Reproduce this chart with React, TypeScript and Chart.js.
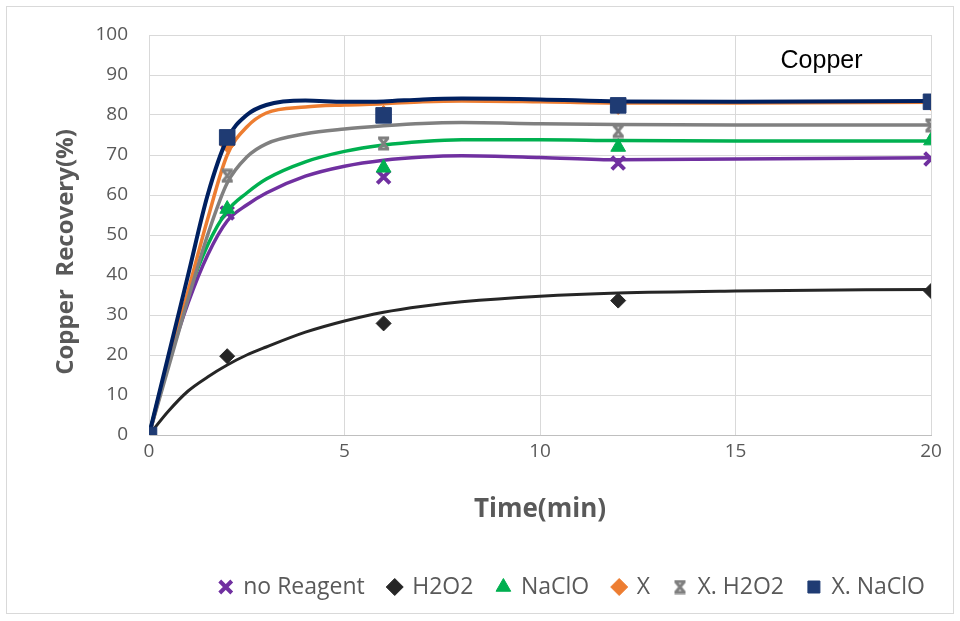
import React, { useEffect, useRef } from 'react';
import { Chart, registerables } from 'chart.js';
Chart.register(...registerables);

// Measured sample points
const sampleTimes = [0, 2, 6, 12, 20];
const noReagent = [0, 55.5, 64.5, 68, 69];
const h2o2 = [0, 19.7, 27.9, 33.6, 36];
const naclo = [0, 56.5, 66.8, 72, 73.6];
const xOnly = [0, 72.5, 80.5, 82, 83];
const xH2o2 = [0, 64.8, 72.9, 76, 77.4];
const xNaclo = [0, 74.4, 79.9, 82.4, 83.3];

// Smoothed trend curves
const curveTimes = [0, 0.5, 1, 1.5, 2, 2.5, 3, 4, 5, 6, 7, 8, 10, 12, 15, 20];
const noReagentCurve = [0, 18, 33, 45, 53.5, 57.5, 60.5, 64.7, 67.2, 68.7, 69.5, 69.8, 69.4, 68.8, 69, 69.3];
const h2o2Curve = [0, 6, 11, 14.5, 17.5, 20, 22, 25.7, 28.5, 30.7, 32.2, 33.3, 34.7, 35.5, 36, 36.4];
const nacloCurve = [0, 19, 35, 47.5, 56, 60.5, 64, 68.3, 70.9, 72.5, 73.4, 73.8, 73.8, 73.6, 73.5, 73.5];
const xCurve = [0, 18, 36, 54, 70, 77, 80.5, 82, 82.5, 82.8, 83.3, 83.5, 83.3, 83, 83, 83.2];
const xH2o2Curve = [0, 17, 34, 50, 63, 69.5, 72.8, 75.3, 76.5, 77.3, 77.9, 78.1, 77.8, 77.6, 77.5, 77.5];
const xNacloCurve = [0, 20, 40, 60, 74, 80, 82.5, 83.6, 83.3, 83.4, 83.9, 84.1, 83.9, 83.4, 83.3, 83.5];

const seriesNames = ['no Reagent', 'H2O2', 'NaClO', 'X', 'X. H2O2', 'X. NaClO'];
const xTicks = [0, 5, 10, 15, 20];
const yTicks = [0, 10, 20, 30, 40, 50, 60, 70, 80, 90, 100];

const markerColors = ['#7030A0', '#262626', '#00B050', '#ED7D31', '#7F7F7F', '#1F3B73'];
const lineColors = ['#7030A0', '#262626', '#00B050', '#ED7D31', '#808080', '#002060'];

export default function App() {
  const ref = useRef<HTMLCanvasElement>(null);

  useEffect(() => {
    if (!ref.current) return;
    // hourglass-like star marker for X. H2O2
    const hg = document.createElement('canvas');
    hg.width = 15;
    hg.height = 15;
    const hctx = hg.getContext('2d')!;
    hctx.strokeStyle = '#7F7F7F';
    hctx.lineWidth = 3;
    hctx.beginPath();
    hctx.moveTo(3, 2); hctx.lineTo(12, 13);
    hctx.moveTo(12, 2); hctx.lineTo(3, 13);
    hctx.moveTo(2, 2); hctx.lineTo(13, 2);
    hctx.moveTo(2, 13); hctx.lineTo(13, 13);
    hctx.stroke();

    const samples = [noReagent, h2o2, naclo, xOnly, xH2o2, xNaclo];
    const curves = [noReagentCurve, h2o2Curve, nacloCurve, xCurve, xH2o2Curve, xNacloCurve];
    const styles: any[] = ['crossRot', 'rectRot', 'triangle', 'rectRot', hg, 'rect'];
    const radii = [9, 7.5, 8.5, 7.5, 8, 11];
    const borderW = [4, 1, 1, 1, 3, 1];
    const lineW = [3.5, 3, 3.5, 3.5, 3.5, 4];

    const datasets: any[] = [];
    samples.forEach((vals, i) => {
      datasets.push({
        label: seriesNames[i],
        data: sampleTimes.map((t, k) => ({ x: t, y: vals[k] })),
        showLine: false,
        pointStyle: styles[i],
        pointRadius: radii[i],
        pointBorderWidth: borderW[i],
        borderWidth: borderW[i],
        backgroundColor: markerColors[i],
        borderColor: markerColors[i],
        order: (5 - i) * 2,
      });
    });
    curves.forEach((vals, i) => {
      datasets.push({
        label: seriesNames[i] + ' curve',
        data: curveTimes.map((t, k) => ({ x: t, y: vals[k] })),
        showLine: true,
        pointRadius: 0,
        borderColor: lineColors[i],
        backgroundColor: lineColors[i],
        borderWidth: lineW[i],
        cubicInterpolationMode: 'monotone',
        order: (5 - i) * 2 + 1,
      });
    });

    const annotate = {
      id: 'annotate',
      afterDraw(chart: any) {
        const { ctx, chartArea, scales } = chart;
        ctx.save();
        // y-axis title
        ctx.translate(66, (chartArea.top + chartArea.bottom) / 2 + 17);
        ctx.rotate(-Math.PI / 2);
        ctx.font = 'bold 24px "Open Sans"';
        ctx.fillStyle = '#595959';
        ctx.textAlign = 'center';
        ctx.textBaseline = 'middle';
        ctx.fillText('Copper  Recovery(%)', 0, 0);
        ctx.restore();
        ctx.save();
        ctx.font = '25px "Liberation Sans"';
        ctx.fillStyle = '#000000';
        ctx.textAlign = 'center';
        ctx.textBaseline = 'middle';
        ctx.fillText('Copper', scales.x.getPixelForValue(17.2), scales.y.getPixelForValue(93.5));
        ctx.restore();
      },
    };

    const chart = new Chart(ref.current, {
      type: 'scatter',
      data: { datasets },
      plugins: [annotate],
      options: {
        animation: false,
        responsive: false,
        layout: { padding: { top: 35, left: 8, right: 11, bottom: 12.5 } },
        plugins: {
          tooltip: { enabled: false },
          legend: {
            position: 'bottom',
            align: 'end',
            labels: {
              usePointStyle: true,
              boxWidth: 12,
              boxHeight: 12,
              padding: 24,
              color: '#595959',
              font: { family: '"Open Sans"', size: 23 },
              filter: (item: any) => item.datasetIndex < 6,
              sort: (a: any, b: any) => a.datasetIndex - b.datasetIndex,
            },
          },
        },
        scales: {
          x: {
            type: 'linear',
            min: 0,
            max: 20,
            afterBuildTicks: (s: any) => { s.ticks = xTicks.map((v) => ({ value: v })); },
            afterFit: (s: any) => { s.height = 116.5; },
            grid: { color: '#D9D9D9', drawTicks: false, lineWidth: 1 },
            border: { color: '#BFBFBF', width: 1 },
            ticks: { color: '#595959', padding: 5, font: { family: '"Open Sans"', size: 19 } },
            title: {
              display: true,
              text: 'Time(min)',
              color: '#595959',
              padding: { top: 0, bottom: 26 },
              font: { family: '"Open Sans"', size: 26, weight: 'bold' },
            },
          },
          y: {
            type: 'linear',
            min: 0,
            max: 100,
            afterBuildTicks: (s: any) => { s.ticks = yTicks.map((v) => ({ value: v })); },
            afterFit: (s: any) => { s.width = 141; },
            grid: {
              color: (c: any) => (c.tick && c.tick.value === 0 ? '#BFBFBF' : '#D9D9D9'),
              drawTicks: false,
              lineWidth: 1,
            },
            border: { color: '#D9D9D9', width: 1 },
            ticks: { color: '#595959', padding: 21, font: { family: '"Open Sans"', size: 19 } },
          },
          yRight: {
            type: 'linear',
            position: 'right',
            display: true,
            min: 0,
            max: 100,
            afterFit: (s: any) => { s.width = 18; },
            grid: { display: false },
            border: { display: false },
            ticks: { display: false },
          },
        },
      },
    } as any);
    return () => chart.destroy();
  }, []);

  return (
    <div style={{ position: 'fixed', left: 0, top: 0, width: 960, height: 621, background: '#fff' }}>
      <div
        style={{
          position: 'absolute',
          left: 6,
          top: 6,
          width: 948,
          height: 608,
          border: '1px solid #D9D9D9',
          boxSizing: 'border-box',
        }}
      />
      <canvas ref={ref} width={960} height={621} style={{ position: 'absolute', left: 0, top: 0, display: 'block' }} />
    </div>
  );
}
